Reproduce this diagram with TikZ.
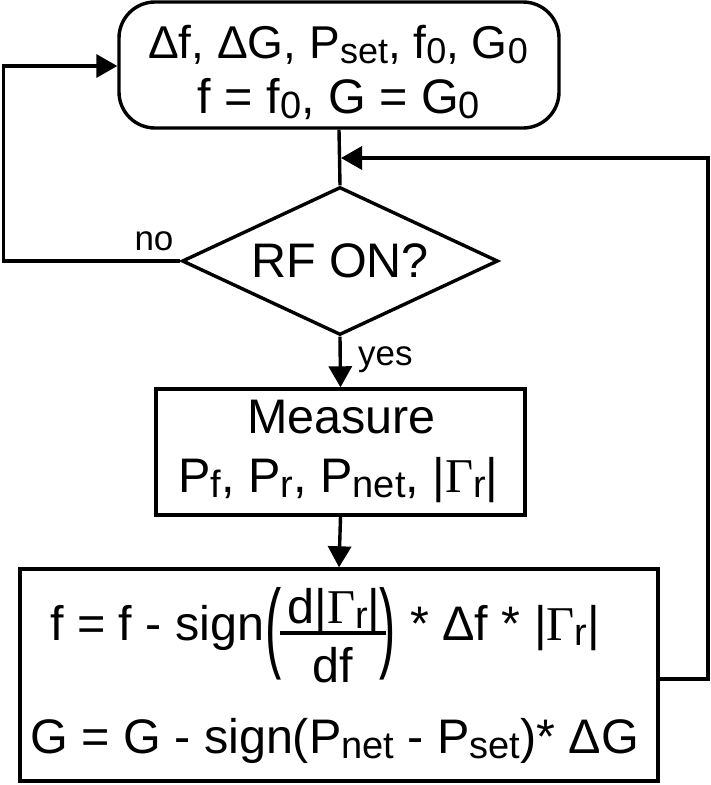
\documentclass[tikz,border=0pt]{standalone}
\usepackage{fontspec}
\setmainfont{Liberation Sans}
\newfontfamily\seriffont{Liberation Serif}
\usetikzlibrary{arrows.meta,shapes.geometric}
\newcommand\subt[1]{\raisebox{-5pt}{\fontsize{38}{38}\selectfont #1}}
\newcommand\subs[1]{\raisebox{-5pt}{\fontsize{36}{36}\selectfont #1}}
\newcommand\Gam{{\seriffont Γ}}
\begin{document}
\begin{tikzpicture}[x=1pt,y=-1pt,
  every node/.style={font=\fontsize{48.5}{55}\selectfont, inner sep=0pt},
  line/.style={line width=3.4pt},
  arr/.style={line width=3.4pt, -{Triangle[length=21pt,width=23pt]}},
  boxed/.style={draw, line width=3.4pt},
  lab/.style={font=\fontsize{35}{35}\selectfont}]
\useasboundingbox (0,0) rectangle (711,785);

% start box
\node[boxed, rounded corners=36pt, minimum width=440pt, minimum height=126pt] (init) at (339,65) {};
\node[anchor=base, font=\fontsize{46}{50}\selectfont] (initA) at (338,58) {Δf, ΔG, P\subs{set}, f\subs{0}, G\subs{0}};
\node[anchor=base] (initB) at (339,113) {f = f\subt{0}, G = G\subt{0}};

% decision
\node[draw, line width=3.4pt, diamond, aspect=2.135, minimum width=316pt, minimum height=148pt] (rf) at (340,261) {RF ON?};

% measure box
\node[boxed, minimum width=369pt, minimum height=126pt] (meas) at (340.5,452) {};
\node[anchor=base] (measA) at (341.5,433) {Measure};
\node[anchor=base] (measB) at (338.5,492) {P\subt{f}, P\subt{r}, P\subt{net}, |\Gam\subt{r}|};

% update box
\node[boxed, minimum width=638pt, minimum height=212pt] (upd) at (339,675) {};
\node[anchor=base west] (u1) at (50,640) {f = f - sign};
\node (lp) at (274,634) {\scalebox{1}[2.05]{(}};
\node[anchor=base] (num) at (334,623) {d|\Gam\subt{r}|};
\node[anchor=base] (den) at (333,682) {df};
\coordinate (barL) at (280,633);
\coordinate (barR) at (386,633);
\draw[line] (barL) -- (barR);
\node (rp) at (388,634) {\scalebox{1}[2.05]{)}};
\node[anchor=base west] (u2) at (410,640) {* Δf * |\Gam\subt{r}|};
\node[anchor=base west] (u3) at (30,753) {G = G - sign(P\subt{net} - P\subt{set})* ΔG};

% labels
\node[lab, anchor=base] (no) at (154,250) {no};
\node[lab, anchor=base west] (yes) at (358,365) {yes};

% connectors
\coordinate (join) at (341,158);
\coordinate (rt) at (708,158);
\coordinate (lt) at (3.5,66);
\draw[line] (init.south) -- (rf.north);
\draw[arr] (rf.west) -| (lt) -- (lt -| init.west);
\draw[arr] (rf.south) -- (meas.north);
\draw[arr] (meas.south) -- (upd.north);
\draw[arr] ([yshift=-4pt]upd.east) -| (rt) -- (join);
\end{tikzpicture}
\end{document}
